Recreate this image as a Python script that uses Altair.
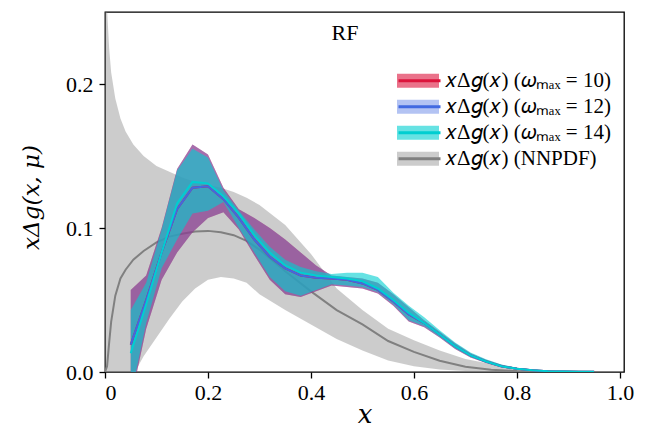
import altair as alt
import pandas as pd

# ---------------- data ----------------
x_omega = [0.05, 0.08, 0.11, 0.14, 0.17, 0.20, 0.23, 0.26, 0.29, 0.32, 0.35,
           0.38, 0.41, 0.44, 0.47, 0.50, 0.53, 0.56, 0.59, 0.62, 0.65, 0.68,
           0.71, 0.74, 0.77, 0.80, 0.83, 0.86, 0.89, 0.92, 0.95]

w10_mid = [0.019, 0.050, 0.083, 0.113, 0.128, 0.129, 0.120, 0.107, 0.092, 0.080, 0.072,
           0.067, 0.0655, 0.065, 0.064, 0.0615, 0.057, 0.049, 0.040, 0.034, 0.026, 0.018,
           0.0115, 0.0073, 0.0040, 0.0022, 0.0012, 0.0006, 0.0003, 0.0002, 0.0001]
w10_hi = [0.057, 0.067, 0.100, 0.141, 0.158, 0.151, 0.128, 0.113, 0.107, 0.100, 0.092,
          0.083, 0.074, 0.067, 0.066, 0.065, 0.062, 0.054, 0.045, 0.036, 0.028, 0.020,
          0.013, 0.0085, 0.005, 0.0029, 0.0017, 0.0009, 0.0005, 0.0003, 0.0002]
w10_lo = [-0.020, 0.030, 0.064, 0.083, 0.097, 0.107, 0.111, 0.099, 0.081, 0.064, 0.054,
          0.052, 0.056, 0.060, 0.059, 0.058, 0.0545, 0.046, 0.035, 0.031, 0.024, 0.016,
          0.010, 0.0062, 0.0032, 0.0016, 0.0008, 0.0004, 0.0002, 0.0001, 0.0]

w12_mid = [0.019, 0.050, 0.083, 0.113, 0.128, 0.129, 0.120, 0.107, 0.092, 0.080, 0.072,
           0.067, 0.0655, 0.065, 0.064, 0.0615, 0.057, 0.049, 0.040, 0.034, 0.026, 0.018,
           0.0115, 0.0073, 0.0040, 0.0022, 0.0012, 0.0006, 0.0003, 0.0002, 0.0001]
w12_hi = [0.057, 0.067, 0.100, 0.141, 0.158, 0.151, 0.128, 0.113, 0.107, 0.100, 0.092,
          0.083, 0.074, 0.067, 0.066, 0.065, 0.062, 0.054, 0.045, 0.036, 0.028, 0.020,
          0.013, 0.0085, 0.005, 0.0029, 0.0017, 0.0009, 0.0005, 0.0003, 0.0002]
w12_lo = [-0.020, 0.030, 0.064, 0.083, 0.097, 0.107, 0.111, 0.099, 0.081, 0.064, 0.054,
          0.052, 0.056, 0.060, 0.059, 0.058, 0.0545, 0.046, 0.035, 0.031, 0.024, 0.016,
          0.010, 0.0062, 0.0032, 0.0016, 0.0008, 0.0004, 0.0002, 0.0001, 0.0]

w14_mid = [0.013, 0.047, 0.083, 0.117, 0.132, 0.131, 0.122, 0.110, 0.095, 0.083, 0.074,
           0.069, 0.067, 0.066, 0.065, 0.063, 0.058, 0.050, 0.041, 0.034, 0.026, 0.018,
           0.0115, 0.0073, 0.0040, 0.0022, 0.0012, 0.0006, 0.0003, 0.0002, 0.0001]
w14_hi = [0.043, 0.062, 0.099, 0.140, 0.155, 0.149, 0.126, 0.112, 0.099, 0.087, 0.078,
          0.073, 0.070, 0.068, 0.069, 0.069, 0.066, 0.055, 0.046, 0.038, 0.029, 0.0205,
          0.0135, 0.0088, 0.0052, 0.003, 0.0018, 0.001, 0.0005, 0.0003, 0.0002]
w14_lo = [-0.017, 0.034, 0.072, 0.092, 0.110, 0.112, 0.118, 0.100, 0.083, 0.066, 0.056,
          0.053, 0.057, 0.061, 0.060, 0.059, 0.0555, 0.047, 0.036, 0.032, 0.0245, 0.0165,
          0.0105, 0.0065, 0.0034, 0.0017, 0.0009, 0.0004, 0.0002, 0.0001, 0.0]

x_nnpdf = [0.0, 0.004, 0.008, 0.012, 0.02, 0.03, 0.04, 0.055, 0.075, 0.10, 0.125,
           0.15, 0.175, 0.20, 0.225, 0.25, 0.275, 0.30, 0.35, 0.40, 0.45, 0.50,
           0.55, 0.60, 0.65, 0.70, 0.75, 0.80, 0.85, 0.90, 0.95]
nn_mid = [0.0, 0.004, 0.020, 0.035, 0.053, 0.065, 0.071, 0.078, 0.084, 0.090, 0.094,
          0.096, 0.0975, 0.098, 0.097, 0.095, 0.091, 0.085, 0.070, 0.056, 0.043, 0.033,
          0.0215, 0.014, 0.0078, 0.0037, 0.0016, 0.0007, 0.0002, 0.0001, 0.0]
nn_hi = [0.30, 0.252, 0.225, 0.208, 0.190, 0.176, 0.167, 0.158, 0.150, 0.143, 0.139,
         0.135, 0.132, 0.130, 0.128, 0.125, 0.121, 0.116, 0.102, 0.082, 0.058, 0.043,
         0.030, 0.022, 0.015, 0.009, 0.0055, 0.003, 0.001, 0.0003, 0.0]
nn_lo = [-0.02, -0.02, -0.02, -0.02, -0.018, -0.015, -0.011, -0.002, 0.011, 0.024, 0.037,
         0.049, 0.058, 0.064, 0.066, 0.065, 0.062, 0.054, 0.043, 0.033, 0.023, 0.015,
         0.008, 0.004, 0.0018, 0.0007, 0.0003, 0.0001, 0.0, 0.0, 0.0]

labels = ["𝑥Δ𝑔(𝑥) (𝜔ₘₐₓ = 10)", "𝑥Δ𝑔(𝑥) (𝜔ₘₐₓ = 12)",
          "𝑥Δ𝑔(𝑥) (𝜔ₘₐₓ = 14)", "𝑥Δ𝑔(𝑥) (NNPDF)"]
line_labels = [s + "\u200b" for s in labels]
colors = ["#dc143c", "#4169e1", "#00ced1", "#808080"]
band_alpha = [0.6, 0.4, 0.6, 0.4]

x_ticks = [0, 0.2, 0.4, 0.6, 0.8, 1.0]
y_ticks = [0.0, 0.1, 0.2]

FONT = "Liberation Serif"

# ---------------- frames ----------------
def frame(xs, mid, lo, hi, i):
    return pd.DataFrame({"x": xs, "mid": mid, "lo": lo, "hi": hi,
                         "band": labels[i], "line": line_labels[i]})

series = [
    frame(x_nnpdf, nn_mid, nn_lo, nn_hi, 3),
    frame(x_omega, w10_mid, w10_lo, w10_hi, 0),
    frame(x_omega, w12_mid, w12_lo, w12_hi, 1),
    frame(x_omega, w14_mid, w14_lo, w14_hi, 2),
]
alpha_order = [band_alpha[3], band_alpha[0], band_alpha[1], band_alpha[2]]

x_enc = alt.X("x:Q", scale=alt.Scale(domain=[0, 1.008], nice=False, zero=False),
              axis=alt.Axis(values=x_ticks, title="x",
                            labelExpr="datum.value == 0 ? '0' : format(datum.value, '.1f')",
                            titleFontStyle="italic", titleFont="DejaVu Serif",
                            titleFontSize=26, titleFontWeight="normal",
                            titleBaseline="alphabetic", titleY=50, labelPadding=4))
y_scale = alt.Scale(domain=[0, 0.25], nice=False, zero=False)
y_axis = alt.Axis(values=y_ticks, format=".1f", title="xΔg(x, μ)",
                  titleFontStyle="italic", titleFont="DejaVu Serif",
                  titleFontSize=23, titleFontWeight="normal",
                  titleAngle=-90, titleBaseline="middle", titleAlign="center",
                  titleX=-74, titleY=185, labelPadding=6)

legend_common = dict(orient="none", legendX=292, legendY=56, title=None,
                     labelFont=FONT, labelFontSize=21, labelColor="black",
                     labelLimit=400,
                     symbolSize=1764, clipHeight=25.5, rowPadding=0, padding=0,
                     labelOffset=6, offset=0)

fill_enc = alt.Fill("band:N", scale=alt.Scale(domain=labels, range=colors),
                    legend=alt.Legend(symbolType="M-1,-0.333H1V0.333H-1Z",
                                      symbolStrokeWidth=0,
                                      symbolOpacity=alt.ExprRef("datum.index % 2 == 1 ? 0.4 : 0.6"),
                                      **legend_common))
stroke_enc = alt.Stroke("line:N", scale=alt.Scale(domain=line_labels, range=colors),
                        legend=alt.Legend(symbolType="stroke", symbolStrokeWidth=3,
                                          labelExpr="''", **legend_common))

bands = []
lines = []
for k, (df, a) in enumerate(zip(series, alpha_order)):
    band = alt.Chart(df).mark_area(fillOpacity=a, clip=True, strokeWidth=0).encode(
        x=x_enc, y=alt.Y("lo:Q", scale=y_scale, axis=y_axis), y2="hi:Q", fill=fill_enc)
    line = alt.Chart(df).mark_line(strokeWidth=2.0, clip=True).encode(
        x=x_enc, y=alt.Y("mid:Q", scale=y_scale, axis=y_axis), stroke=stroke_enc)
    if k == 0:
        # NNPDF band and central line sit underneath the omega bands
        bands += [band, line]
    else:
        bands.append(band)
        lines.append(line)

title_df = pd.DataFrame({"t": ["RF"]})
title = alt.Chart(title_df).mark_text(font=FONT, fontSize=22, color="black",
                                      baseline="middle", align="center").encode(
    text="t:N", x=alt.value(240), y=alt.value(21))

chart = alt.layer(*(bands + lines + [title])).properties(
    width=519, height=360,
    autosize=alt.AutoSizeParams(type="none"),
    padding={"left": 97, "top": 4, "right": 13, "bottom": 62},
).configure_view(stroke="black", strokeWidth=1.3).configure_axis(
    domain=False, grid=False, ticks=True, tickColor="black", tickSize=6,
    tickWidth=1.3, labelFont=FONT, labelFontSize=22, labelColor="black",
    titleColor="black",
)

chart.save("out.html", embed_options={"renderer": "svg", "actions": False})
